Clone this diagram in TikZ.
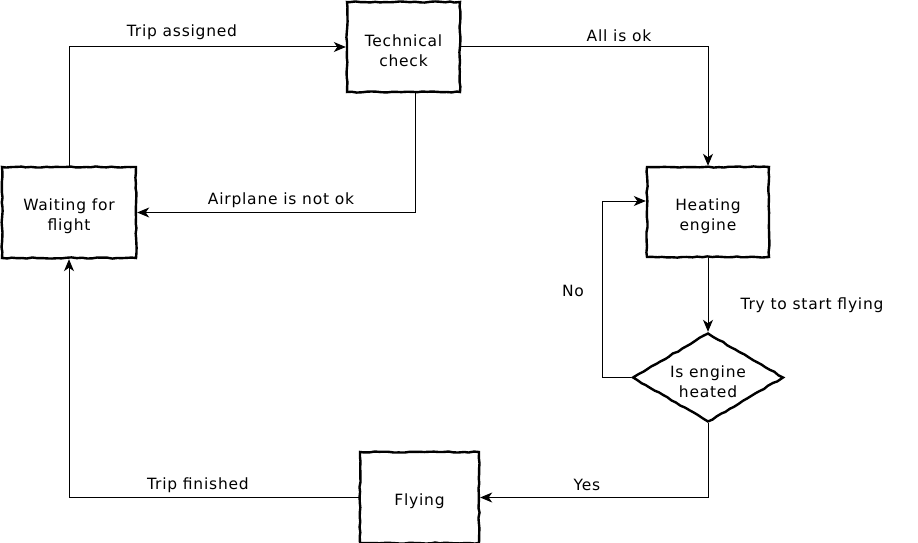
\documentclass[tikz,border=0pt]{standalone}
\usepackage{fontspec}
\setmainfont{DejaVu Sans}[LetterSpace=5]
\usetikzlibrary{arrows.meta,shapes.geometric,decorations.pathmorphing}
\begin{document}
\begin{tikzpicture}[x=1pt,y=-1pt,
  every node/.style={font=\fontsize{15.5}{20}\selectfont},
  every label/.style={align=center, yshift=-4pt},
  sketch/.style={draw, line width=2.4pt, decorate, decoration={random steps, segment length=5pt, amplitude=0.6pt}},
  state/.style={sketch, rectangle, inner sep=0pt},
  decision/.style={sketch, diamond, inner sep=0pt},
  conn/.style={line width=1pt, -{Stealth[length=12pt,width=10pt,inset=3.5pt]}},
  lbl/.style={inner sep=1pt}
]
\useasboundingbox (0,0) rectangle (918,543);
\node[state, minimum width=134pt, minimum height=91pt,
  label={center:Waiting for\\flight}] (wait) at (69,212.5) {};
\node[state, minimum width=113pt, minimum height=90pt,
  label={center:Technical\\check}] (tech) at (403.5,47) {};
\node[state, minimum width=122pt, minimum height=90pt,
  label={center:Heating\\engine}] (heat) at (708,212) {};
\node[decision, minimum width=151pt, minimum height=89pt,
  label={center:Is engine\\heated}] (dia) at (708,377.5) {};
\node[state, minimum width=119pt, minimum height=91pt,
  label={center:Flying}] (fly) at (419.5,497.5) {};

\draw[conn] (wait.north) |- (tech.west);
\draw[conn] ([xshift=12pt]tech.south) |- (wait.east);
\draw[conn] (tech.east) -| (heat.north);
\draw[conn] (heat.south) -- (dia.north);
\coordinate (noc) at (602,377.5);
\draw[conn] (dia.west) -- (noc) |- ([yshift=11pt]heat.west);
\draw[conn] (dia.south) |- (fly.east);
\draw[conn] (fly.west) -| (wait.south);

\node[lbl] (l1) at (182,32) {Trip assigned};
\node[lbl] (l2) at (281,200) {Airplane is not ok};
\node[lbl] (l3) at (619,36) {All is ok};
\node[lbl] (l4) at (812,305) {Try to start flying};
\node[lbl] (l5) at (573,291) {No};
\node[lbl] (l6) at (587,485) {Yes};
\node[lbl] (l7) at (198,485) {Trip finished};
\end{tikzpicture}
\end{document}
